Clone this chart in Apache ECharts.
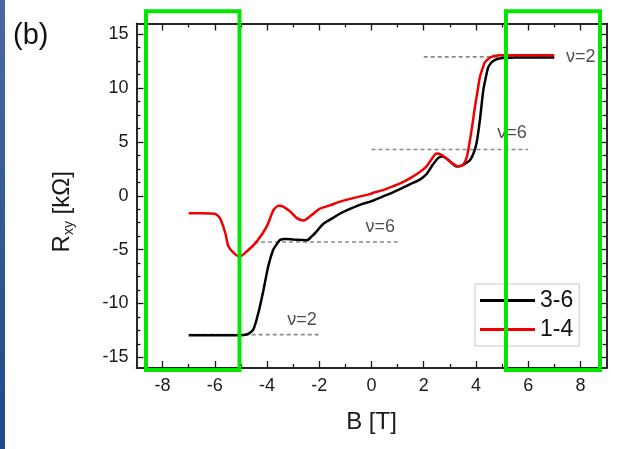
<!DOCTYPE html>
<html><head><meta charset="utf-8">
<script src="https://cdn.jsdelivr.net/npm/echarts@6/dist/echarts.min.js"></script>
<style>html,body{margin:0;padding:0;background:#fff}#c{width:624px;height:449px}</style>
</head><body><div id="c"></div>
<script>
// ---- data ----
const seriesNames = ['3-6', '1-4'];
const B_36 = [-7, -6, -5.2, -4.9, -4.7, -4.52, -4.33, -4.14, -3.95, -3.76, -3.6, -3.5, -3.3, -3.0, -2.7, -2.48, -2.3, -2.1, -1.84, -1.5, -1.2, -0.8, -0.4, 0, 0.4, 0.8, 1.2, 1.5, 1.85, 2.1, 2.35, 2.55, 2.7, 2.85, 3.05, 3.26, 3.45, 3.6, 3.77, 3.9, 4.02, 4.15, 4.28, 4.38, 4.47, 4.6, 4.72, 4.85, 5.04, 5.5, 6, 6.5, 7];
const R_36 = [-12.95, -12.95, -12.95, -12.93, -12.8, -12.4, -10.85, -8.8, -6.5, -5.0, -4.4, -4.1, -4.02, -4.06, -4.1, -4.14, -3.8, -3.3, -2.6, -2.1, -1.65, -1.2, -0.8, -0.5, -0.1, 0.3, 0.75, 1.1, 1.5, 2.0, 2.9, 3.5, 3.65, 3.5, 3.1, 2.72, 2.8, 3.0, 3.3, 3.9, 4.85, 7.0, 9.77, 11.0, 11.92, 12.4, 12.6, 12.72, 12.8, 12.85, 12.85, 12.85, 12.85];
const B_14 = [-7, -6.5, -6, -5.8, -5.6, -5.48, -5.28, -5.05, -4.77, -4.39, -4.01, -3.75, -3.56, -3.35, -3.1, -2.86, -2.6, -2.3, -1.97, -1.6, -1.2, -0.6, -0.06, 0.1, 0.4, 0.71, 1.1, 1.47, 1.85, 2.1, 2.3, 2.49, 2.68, 2.9, 3.1, 3.32, 3.5, 3.65, 3.77, 3.87, 3.96, 4.06, 4.15, 4.25, 4.34, 4.47, 4.6, 4.75, 4.91, 5.5, 6, 6.5, 7];
const R_14 = [-1.62, -1.62, -1.68, -2.1, -3.46, -4.7, -5.31, -5.65, -5.16, -4.24, -2.85, -1.31, -0.94, -1.05, -1.5, -2.08, -2.3, -1.8, -1.2, -0.9, -0.55, -0.15, 0.15, 0.3, 0.5, 0.78, 1.15, 1.61, 2.2, 2.7, 3.4, 3.92, 3.8, 3.4, 3.0, 2.75, 2.85, 3.6, 5.15, 6.7, 8.23, 9.7, 11.0, 11.8, 12.38, 12.7, 12.9, 13.0, 13.05, 13.05, 13.05, 13.05, 13.05];
// plateau guide lines (nu = 2, 6, 6, 2)
const guideR = [12.9, 4.3, -4.3, -12.9];
const guideStart = [2, 0, -4.5, -7];
const guideEnd = [7, 6, 1, -2];
const guideText = ['ν=2', 'ν=6', 'ν=6', 'ν=2'];
const guideLabelB = [7.45, 5.95, 0.9, -2.1];
const guideLabelR = [12.9, 5.8, -2.9, -11.55];
// ticks
const xMajor = [-8, -6, -4, -2, 0, 2, 4, 6, 8];
const xMinor = [-7, -5, -3, -1, 1, 3, 5, 7];
const yMajor = [-15, -10, -5, 0, 5, 10, 15];
const yMinor = [-13.75, -12.5, -11.25, -8.75, -7.5, -6.25, -3.75, -2.5, -1.25, 1.25, 2.5, 3.75, 6.25, 7.5, 8.75, 11.25, 12.5, 13.75];

const FONT = 'Liberation Sans, Arial, sans-serif';
const AX = '#1a1a1a';
function xAx(pos, ticks, len, labels) {
  return {type: 'value', position: pos, min: -9, max: 9,
    axisLine: {show: true, onZero: false, lineStyle: {color: AX, width: 1.5}},
    splitLine: {show: false},
    axisTick: {show: true, inside: true, length: len, customValues: ticks, lineStyle: {color: AX, width: 1.3}},
    axisLabel: labels ? {show: true, customValues: ticks, margin: 9, fontSize: 18, color: '#1a1a1a', fontFamily: FONT} : {show: false}
  };
}
function yAx(pos, ticks, len, labels) {
  return {type: 'value', position: pos, min: -16, max: 16,
    axisLine: {show: true, onZero: false, lineStyle: {color: AX, width: 1.5}},
    splitLine: {show: false},
    axisTick: {show: true, inside: true, length: len, customValues: ticks, lineStyle: {color: AX, width: 1.3}},
    axisLabel: labels ? {show: true, customValues: ticks, margin: 8, fontSize: 18, color: '#1a1a1a', fontFamily: FONT} : {show: false}
  };
}
const xAxes = [xAx('bottom', xMajor, 7, true), xAx('bottom', xMinor, 4, false), xAx('top', xMajor, 7, false), xAx('top', xMinor, 4, false)];
xAxes[0].name = 'B [T]';
xAxes[0].nameLocation = 'middle';
xAxes[0].nameGap = 42;
xAxes[0].nameTextStyle = {fontSize: 24, color: '#1a1a1a', fontFamily: FONT};
const yAxes = [yAx('left', yMajor, 7, true), yAx('left', yMinor, 4, false), yAx('right', yMajor, 7, false), yAx('right', yMinor, 4, false)];
yAxes[0].name = '{r|R}{s|xy}{r| [kΩ]}';
yAxes[0].nameLocation = 'middle';
yAxes[0].nameGap = 60;
yAxes[0].nameTextStyle = {fontFamily: FONT, color: '#1a1a1a', padding: [0, 32, 0, 0], rich: {
  r: {fontSize: 24, fontFamily: FONT, color: '#1a1a1a', lineHeight: 28, verticalAlign: 'middle'},
  s: {fontSize: 14, fontFamily: FONT, color: '#1a1a1a', lineHeight: 14, padding: [17, 0, 0, 0], verticalAlign: 'bottom'}
}};

const series = [];
guideR.forEach((r, i) => {
  series.push({type: 'line', name: 'g' + i, xAxisIndex: 0, yAxisIndex: 0, silent: true, symbol: 'none', z: 1,
    data: [[guideStart[i], r], [guideEnd[i], r]],
    lineStyle: {color: '#8a8a8a', width: 1.6, type: [4, 3]}});
});
series.push({type: 'scatter', name: 'labels', xAxisIndex: 0, yAxisIndex: 0, symbolSize: 0, silent: true, z: 5,
  data: guideText.map((t, i) => ({value: [guideLabelB[i], guideLabelR[i]], label: {
    show: true, formatter: t, position: 'inside', align: i === 0 ? 'left' : 'right', verticalAlign: 'middle',
    fontSize: 18, color: '#222', fontFamily: FONT}}))});
series.push({type: 'line', name: seriesNames[0], xAxisIndex: 0, yAxisIndex: 0, symbol: 'none', smooth: 0.25, z: 3,
  color: '#000', lineStyle: {color: '#000', width: 2.5}, data: B_36.map((b, i) => [b, R_36[i]])});
series.push({type: 'line', name: seriesNames[1], xAxisIndex: 0, yAxisIndex: 0, symbol: 'none', smooth: 0.25, z: 4,
  color: '#f00000', lineStyle: {color: '#f00000', width: 2.5}, data: B_14.map((b, i) => [b, R_14[i]])});

const chart = echarts.init(document.getElementById('c'), null, {renderer: 'canvas'});
chart.setOption({
  animation: false,
  backgroundColor: '#fff',
  grid: {left: 136.5, right: 17.5, top: 23.5, bottom: 81, containLabel: false, outerBoundsMode: 'none'},
  xAxis: xAxes,
  yAxis: yAxes,
  legend: {data: seriesNames, orient: 'vertical', left: 475, top: 284, padding: [5, 6, 5, 5],
    borderColor: '#c8c8c8', borderWidth: 1, backgroundColor: '#fff', icon: 'rect', itemWidth: 55, itemHeight: 3, itemGap: 6,
    textStyle: {fontSize: 23, color: '#111', fontFamily: FONT}},
  series: series,
  graphic: [
    {type: 'rect', left: 0, top: 0, z: 100, shape: {width: 5, height: 449},
      style: {fill: new echarts.graphic.LinearGradient(0, 0, 0, 1, [{offset: 0, color: '#4b67a3'}, {offset: 1, color: '#1c4a8c'}])}},
    {type: 'text', left: 13, top: 21, z: 100, style: {text: '(b)', fontSize: 29, fill: '#111', fontFamily: FONT}},
    {type: 'rect', z: 100, shape: {x: 146, y: 11.3, width: 93.5, height: 358.7}, style: {fill: 'none', stroke: '#00e600', lineWidth: 4}},
    {type: 'rect', z: 100, shape: {x: 506, y: 11.3, width: 94, height: 358.7}, style: {fill: 'none', stroke: '#00e600', lineWidth: 4}}
  ]
});
</script>
</body></html>
